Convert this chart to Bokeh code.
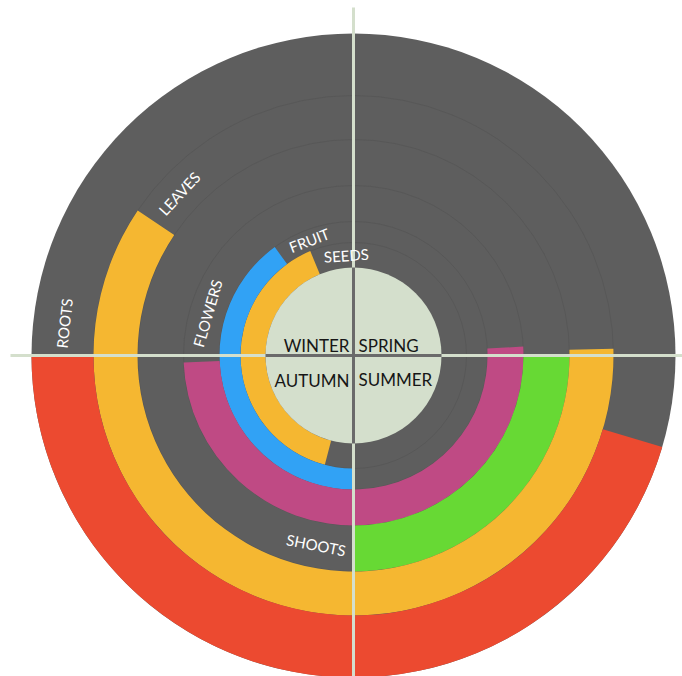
import numpy as np
from bokeh.plotting import figure
from bokeh.models import Range1d, ColumnDataSource
from bokeh.core.properties import value
from bokeh.embed import file_html
from bokeh.resources import INLINE

# ---- data: months counted clockwise from the start of spring (12 o'clock) ----
parts = ["SEEDS", "FRUIT", "FLOWERS", "SHOOTS", "LEAVES", "ROOTS"]
start_month = [6.49, 6.0, 2.9, 3.0, 2.95, 3.55]
end_month = [11.25, 10.8, 8.92, 6.0, 10.13, 9.0]
seasons_left = ["WINTER", "AUTUMN"]
seasons_right = ["SPRING", "SUMMER"]

# ---- layout / style ----
ring_inner = [88, 113, 134, 170, 216, 260]
ring_outer = [113, 134, 170, 216, 260, 322]
colors = ["#f5b731", "#31a2f5", "#bf4a84", "#67d934", "#f5b731", "#ec4a30"]
BG = "#5e5e5e"
SAGE = "#d4dfcc"
R_OUT = ring_outer[-1]
R_IN = ring_inner[0]

p = figure(width=682, height=676, x_range=Range1d(-353, 329), y_range=Range1d(-321, 355),
           output_backend="svg", toolbar_location=None, min_border=0)
p.axis.visible = False
p.grid.visible = False
p.outline_line_color = None
p.background_fill_color = "white"
p.border_fill_color = "white"

# gray disk
p.circle(x=[0], y=[0], radius=R_OUT, fill_color=BG, line_color=None)
# faint ring boundaries
p.circle(x=[0] * 5, y=[0] * 5, radius=ring_outer[:-1], fill_color=None,
         line_color="#535353", line_width=1, line_alpha=0.6)

# coloured arcs
theta_s = np.array(start_month) * 30.0
theta_e = np.array(end_month) * 30.0
src = ColumnDataSource(dict(
    inner=ring_inner, outer=ring_outer,
    sa=np.radians(90 - theta_s), ea=np.radians(90 - theta_e), color=colors))
p.annular_wedge(x=0, y=0, inner_radius="inner", outer_radius="outer",
                start_angle="sa", end_angle="ea", direction="clock",
                fill_color="color", line_color=None, source=src)

# crosshair
p.segment(x0=[-343, 0], y0=[0, -321], x1=[329, 0], y1=[0, 348],
          line_color=SAGE, line_width=3)

# center disk
p.circle(x=[0], y=[0], radius=R_IN, fill_color=SAGE, line_color=None)
p.segment(x0=[-R_IN, 0], y0=[0, -R_IN], x1=[R_IN, 0], y1=[0, R_IN],
          line_color="#6a6a6a", line_width=3)

# ring labels along the arcs
lx, ly, la, lt = [], [], [], []
for name, te, ri, ro in zip(parts, theta_e, ring_inner, ring_outer):
    r = (ri + ro) / 2.0
    nxt = np.ceil(te / 90.0) * 90.0
    start = nxt if (nxt - te) < 4 else te
    mid = start + np.degrees((6 + 10.5 * len(name) / 2.0) / r)
    t = np.radians(mid)
    lx.append(r * np.sin(t))
    ly.append(r * np.cos(t))
    if 90 < (mid % 360) < 270:
        la.append(np.pi - t)
    else:
        la.append(-t)
    lt.append(name)
p.text(x=lx, y=ly, text=lt, angle=la, text_align="center", text_baseline="middle",
       text_color="white", text_font=value("Lato"), text_font_size="15px")

# season labels
p.text(x=[-4, -4], y=[10, -25], text=seasons_left, text_align="right",
       text_baseline="alphabetic", text_color="#161616", text_font=value("Lato"),
       text_font_size="17px")
p.text(x=[5, 5], y=[10, -24], text=seasons_right, text_align="left",
       text_baseline="alphabetic", text_color="#161616", text_font=value("Lato"),
       text_font_size="17px")

open("out.html", "w").write(file_html(p, INLINE))
